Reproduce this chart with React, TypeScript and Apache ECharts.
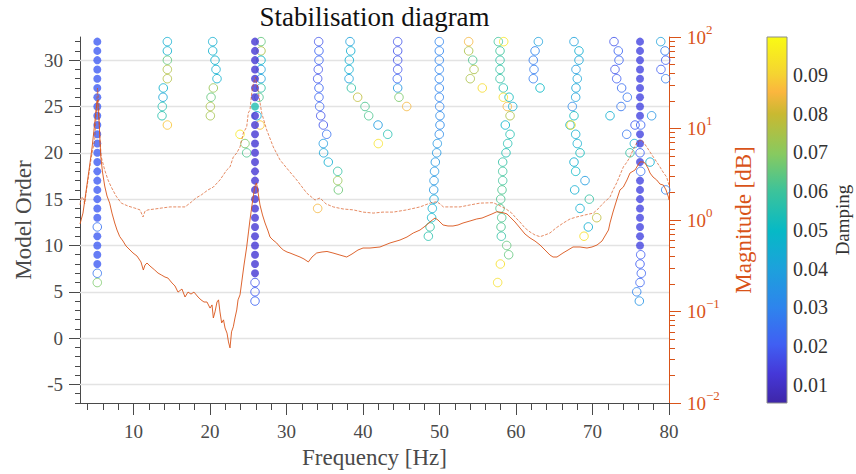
import { useEffect, useRef } from "react";
import * as echarts from "echarts";

const FONT = "Liberation Serif";
const AXIS_GRAY = "#4a4a4a";
const ORANGE = "#D95319";

const titleText = "Stabilisation diagram";
const xLabel = "Frequency [Hz]";
const yLeftLabel = "Model Order";
const yRightLabel = "Magnitude [dB]";
const colorbarLabel = "Damping";

const freqRange = [3, 80];
const orderRange = [-7, 32.5];
const magRange = [0.01, 100];
const dampingRange = [0.0053, 0.0998];

const freqTicks = [10, 20, 30, 40, 50, 60, 70, 80];
const freqMinorTicks = [4, 6, 8, 10, 12, 14, 16, 18, 20, 22, 24, 26, 28, 30, 32, 34, 36, 38, 40, 42, 44, 46, 48, 50, 52, 54, 56, 58, 60, 62, 64, 66, 68, 70, 72, 74, 76, 78, 80];
const orderTicks = [-5, 0, 5, 10, 15, 20, 25, 30];
const orderMinorTicks = [-7, -6, -5, -4, -3, -2, -1, 0, 1, 2, 3, 4, 5, 6, 7, 8, 9, 10, 11, 12, 13, 14, 15, 16, 17, 18, 19, 20, 21, 22, 23, 24, 25, 26, 27, 28, 29, 30, 31, 32];
const magTicks = [0.01, 0.1, 1, 10, 100];
const magMinorTicks = [0.02, 0.03, 0.04, 0.05, 0.06, 0.07, 0.08, 0.09, 0.2, 0.3, 0.4, 0.5, 0.6, 0.7, 0.8, 0.9, 2, 3, 4, 5, 6, 7, 8, 9, 20, 30, 40, 50, 60, 70, 80, 90];
const dampingTicks = [0.01, 0.02, 0.03, 0.04, 0.05, 0.06, 0.07, 0.08, 0.09];

// parula-like colormap stops [position, colour]
const colormapStops: [number, string][] = [
  [0.0, "#3E26A8"],
  [0.08, "#4538D8"],
  [0.16, "#405FF3"],
  [0.26, "#2E84ED"],
  [0.37, "#1CA2DB"],
  [0.47, "#06B9C6"],
  [0.58, "#3DC39A"],
  [0.68, "#87CA60"],
  [0.79, "#C9B931"],
  [0.85, "#FBB63E"],
  [0.9, "#F5D431"],
  [1.0, "#F9FA14"],
];

// stable poles: [frequency Hz, model order, damping]
const stablePoles: [number, number, number][] = [
  [5.26, 32, 0.02], [5.26, 31, 0.02], [5.26, 30, 0.02], [5.26, 29, 0.02], [5.26, 28, 0.02], [5.26, 27, 0.02],
  [5.26, 26, 0.02], [5.26, 25, 0.02], [5.26, 24, 0.02], [5.26, 23, 0.02], [5.26, 22, 0.02], [5.26, 21, 0.02],
  [5.26, 20, 0.02], [5.26, 19, 0.02], [5.26, 18, 0.02], [5.26, 17, 0.02], [5.26, 16, 0.02], [5.26, 15, 0.02],
  [5.26, 14, 0.02], [5.26, 13, 0.02], [5.26, 11, 0.02], [5.26, 10, 0.02], [5.26, 9, 0.02], [5.26, 8, 0.02],
  [25.88, 32, 0.012], [25.88, 31, 0.012], [25.88, 30, 0.012], [25.88, 29, 0.012], [25.88, 28, 0.012],
  [25.88, 27, 0.012], [25.88, 26, 0.012], [25.88, 25, 0.055], [25.88, 24, 0.012], [25.88, 23, 0.012],
  [25.88, 22, 0.012], [25.88, 21, 0.012], [25.88, 20, 0.012], [25.88, 19, 0.012], [25.88, 18, 0.012],
  [25.88, 17, 0.012], [25.88, 16, 0.012], [25.88, 15, 0.012], [25.88, 14, 0.012], [25.88, 13, 0.012],
  [25.88, 12, 0.012], [25.88, 11, 0.012], [25.88, 10, 0.012], [25.88, 9, 0.012], [25.88, 8, 0.012],
  [25.88, 7, 0.012],
  [76.21, 32, 0.015], [76.21, 31, 0.015], [76.21, 30, 0.015], [76.21, 29, 0.015], [76.21, 28, 0.015],
  [76.21, 27, 0.015], [76.21, 26, 0.015], [76.21, 25, 0.015], [76.21, 24, 0.015], [76.21, 22, 0.015],
  [76.21, 21, 0.015], [76.21, 19, 0.015], [76.21, 17, 0.015], [76.21, 16, 0.015], [76.21, 15, 0.015],
  [76.21, 14, 0.015], [76.21, 13, 0.015], [76.21, 12, 0.015], [76.21, 11, 0.015], [76.21, 10, 0.015],
];

// unstable poles: [frequency Hz, model order, damping]
const unstablePoles: [number, number, number][] = [
  [5.26, 12, 0.025], [5.26, 7, 0.026], [5.26, 6, 0.068],
  [14.42, 32, 0.045], [14.42, 31, 0.046], [14.42, 30, 0.065], [14.42, 29, 0.076], [14.42, 28, 0.076],
  [13.89, 27, 0.046], [13.85, 26, 0.042], [13.76, 25, 0.055], [13.72, 24, 0.056], [14.42, 23, 0.088],
  [20.35, 32, 0.045], [20.35, 31, 0.046], [20.65, 30, 0.046], [20.78, 29, 0.045], [20.91, 28, 0.046],
  [20.43, 27, 0.072], [20.13, 26, 0.065], [20.04, 25, 0.075], [20.04, 24, 0.074],
  [23.92, 22, 0.095], [24.57, 21, 0.068], [24.79, 20, 0.062],
  [26.66, 32, 0.065], [26.66, 31, 0.075], [26.66, 30, 0.048], [26.66, 29, 0.04], [26.66, 28, 0.04],
  [26.66, 27, 0.058], [26.4, 26, 0.062], [26.13, 24, 0.045], [26.53, 23, 0.088],
  [25.88, 6, 0.018], [25.88, 5, 0.02], [25.88, 4, 0.022],
  [34.2, 32, 0.018], [34.24, 31, 0.022], [34.24, 30, 0.022], [34.15, 29, 0.018], [34.07, 28, 0.018],
  [34.24, 27, 0.022], [34.24, 26, 0.022], [34.33, 25, 0.022], [34.47, 24, 0.018], [34.81, 23, 0.018],
  [35.25, 22, 0.025], [34.81, 21, 0.038], [34.85, 20, 0.042], [35.46, 19, 0.045], [36.69, 18, 0.058],
  [36.69, 17, 0.072], [36.77, 16, 0.066], [34.07, 14, 0.085],
  [38.3, 32, 0.04], [38.39, 31, 0.045], [38.21, 30, 0.045], [38.17, 29, 0.045], [38.17, 28, 0.04],
  [38.47, 27, 0.058], [39.3, 26, 0.078], [40.26, 25, 0.062], [40.74, 24, 0.062], [41.96, 23, 0.038],
  [43.23, 22, 0.055], [42.0, 21, 0.094],
  [44.53, 32, 0.018], [44.53, 31, 0.018], [44.53, 30, 0.018], [44.53, 29, 0.018], [44.48, 28, 0.022],
  [44.53, 27, 0.036], [44.7, 26, 0.068], [45.71, 25, 0.085],
  [49.97, 32, 0.03], [49.97, 31, 0.03], [49.97, 30, 0.03], [49.97, 29, 0.03], [49.97, 28, 0.03],
  [49.97, 27, 0.03], [49.97, 26, 0.03], [50.02, 25, 0.03], [50.06, 24, 0.032], [50.06, 23, 0.032],
  [49.97, 22, 0.032], [49.71, 21, 0.036], [49.63, 20, 0.036], [49.45, 19, 0.036], [49.35, 18, 0.036],
  [49.28, 17, 0.036], [49.24, 16, 0.036], [49.28, 15, 0.042], [49.06, 14, 0.045], [48.97, 13, 0.048],
  [48.76, 12, 0.058], [48.54, 11, 0.056],
  [53.81, 32, 0.085], [53.81, 31, 0.075], [54.34, 30, 0.062], [54.51, 29, 0.075], [54.02, 28, 0.075],
  [55.59, 27, 0.092],
  [57.69, 32, 0.06], [58.39, 32, 0.095], [57.91, 31, 0.06], [57.91, 30, 0.058], [57.91, 29, 0.058],
  [57.91, 28, 0.058], [58.34, 27, 0.055], [58.34, 26, 0.093], [59.09, 26, 0.052], [58.86, 25, 0.085],
  [59.57, 25, 0.045], [59.22, 24, 0.075], [58.6, 23, 0.048], [59.22, 22, 0.055], [58.91, 21, 0.055],
  [58.69, 20, 0.055], [58.26, 19, 0.058], [58.26, 18, 0.06], [58.26, 17, 0.06], [58.17, 16, 0.062],
  [58.0, 15, 0.062], [57.91, 14, 0.062], [58.13, 13, 0.062], [58.04, 12, 0.062], [58.08, 11, 0.058],
  [58.78, 10, 0.065], [59.04, 9, 0.065], [57.95, 8, 0.093], [57.6, 6, 0.093],
  [62.92, 32, 0.04], [62.49, 31, 0.03], [62.26, 30, 0.028], [62.35, 29, 0.028], [62.26, 28, 0.028],
  [63.14, 27, 0.05],
  [67.58, 32, 0.04], [68.23, 31, 0.045], [68.23, 30, 0.042], [67.84, 29, 0.038], [68.01, 28, 0.042],
  [67.84, 27, 0.042], [67.8, 26, 0.04], [67.36, 25, 0.032], [67.58, 24, 0.052], [67.06, 23, 0.045],
  [67.19, 23, 0.094], [67.8, 22, 0.045], [68.01, 21, 0.045], [68.37, 20, 0.052], [67.58, 19, 0.045],
  [67.8, 18, 0.05], [69.02, 17, 0.038], [67.67, 16, 0.045], [69.58, 15, 0.058], [68.37, 14, 0.045],
  [70.55, 13, 0.078], [69.45, 12, 0.045], [68.89, 11, 0.093],
  [72.81, 32, 0.018], [73.37, 31, 0.022], [73.46, 30, 0.022], [72.94, 29, 0.018], [73.16, 28, 0.02],
  [73.81, 27, 0.024], [74.55, 26, 0.026], [73.73, 25, 0.026], [72.29, 24, 0.045], [77.73, 24, 0.035],
  [75.56, 23, 0.02], [76.3, 23, 0.022], [74.47, 22, 0.026], [75.47, 21, 0.045], [74.9, 20, 0.058],
  [76.21, 20, 0.022], [77.52, 19, 0.045], [76.3, 18, 0.025],
  [76.3, 9, 0.02], [76.21, 8, 0.02], [76.38, 7, 0.022], [76.21, 6, 0.022], [75.78, 5, 0.03], [76.12, 4, 0.035],
  [78.92, 32, 0.04], [79.48, 31, 0.028], [79.57, 30, 0.02], [78.95, 29, 0.02], [79.57, 28, 0.028],
  [79.57, 16, 0.03],
];

// lower FRF curve (solid)
const solidFreq = [3.0, 3.39, 3.78, 4.18, 4.57, 4.9, 5.16, 5.29, 5.48, 5.71, 5.94, 6.23, 6.53, 6.88, 7.18, 7.54, 7.84, 8.19, 8.62, 9.01, 9.54, 9.93, 10.45, 10.97, 11.28, 11.5, 11.76, 12.15, 12.77, 13.2, 13.63, 14.11, 14.5, 15.03, 15.42, 15.81, 16.33, 16.73, 17.12, 17.51, 17.9, 18.43, 18.82, 19.21, 19.6, 20.0, 20.26, 20.43, 20.65, 20.91, 21.11, 21.3, 21.52, 21.76, 21.96, 22.22, 22.41, 22.61, 22.81, 23.04, 23.26, 23.49, 23.66, 23.92, 24.18, 24.44, 24.79, 25.03, 25.22, 25.49, 25.68, 25.88, 26.07, 26.27, 26.53, 26.86, 27.19, 27.58, 27.84, 28.23, 28.71, 29.15, 29.58, 30.06, 30.45, 31.11, 31.76, 32.28, 32.85, 33.33, 33.94, 34.64, 35.29, 36.07, 36.98, 37.87, 38.56, 39.34, 40.0, 40.91, 42.22, 43.53, 44.83, 45.75, 46.57, 47.45, 48.32, 48.89, 49.41, 49.8, 50.46, 51.11, 51.76, 52.42, 53.07, 53.98, 54.86, 55.55, 56.21, 56.86, 57.51, 58.3, 58.82, 59.22, 59.87, 60.52, 61.17, 61.83, 62.48, 63.14, 63.79, 64.44, 64.84, 65.36, 66.14, 66.8, 67.45, 68.37, 69.28, 69.93, 70.59, 71.24, 71.86, 72.09, 72.29, 72.68, 73.16, 73.59, 74.03, 74.51, 74.9, 75.56, 75.95, 76.21, 76.6, 76.86, 77.25, 77.52, 77.91, 78.39, 78.82, 79.26, 79.61, 79.93, 80.0];
const solidMag = [0.904, 1.19, 2.02, 3.52, 6.12, 10.9, 18.1, 20.5, 12.4, 5.0, 3.35, 2.35, 1.83, 1.53, 1.19, 0.927, 0.777, 0.66, 0.589, 0.52, 0.47, 0.436, 0.404, 0.348, 0.284, 0.322, 0.339, 0.314, 0.284, 0.263, 0.251, 0.238, 0.232, 0.205, 0.19, 0.163, 0.176, 0.144, 0.163, 0.155, 0.163, 0.144, 0.134, 0.127, 0.127, 0.109, 0.118, 0.085, 0.099, 0.127, 0.134, 0.099, 0.075, 0.081, 0.066, 0.058, 0.0465, 0.04, 0.06, 0.068, 0.085, 0.104, 0.134, 0.152, 0.221, 0.322, 0.507, 0.74, 1.0, 1.46, 1.88, 2.35, 2.54, 2.02, 1.46, 1.135, 0.927, 0.759, 0.652, 0.604, 0.561, 0.507, 0.47, 0.447, 0.436, 0.414, 0.394, 0.375, 0.348, 0.394, 0.436, 0.447, 0.453, 0.436, 0.414, 0.394, 0.425, 0.47, 0.494, 0.494, 0.507, 0.561, 0.604, 0.652, 0.721, 0.777, 0.882, 0.975, 1.05, 1.0, 0.882, 0.86, 0.86, 0.882, 0.927, 0.975, 1.026, 1.05, 1.106, 1.164, 1.233, 1.202, 1.164, 1.079, 0.951, 0.818, 0.703, 0.636, 0.589, 0.533, 0.47, 0.414, 0.394, 0.394, 0.436, 0.47, 0.507, 0.507, 0.494, 0.507, 0.533, 0.589, 0.721, 0.777, 0.93, 1.223, 1.654, 2.13, 2.29, 2.74, 3.26, 3.52, 3.99, 4.31, 4.31, 4.2, 3.7, 3.26, 2.95, 2.74, 2.47, 2.41, 2.13, 1.78, 1.654];

// upper FRF curve (dashed)
const dashedFreq = [3.0, 3.17, 3.39, 3.61, 3.85, 4.05, 4.48, 4.92, 5.13, 5.29, 5.42, 5.61, 5.78, 6.23, 6.66, 7.09, 7.71, 8.4, 9.28, 10.15, 10.84, 11.24, 11.5, 11.89, 12.8, 13.63, 14.77, 15.81, 16.73, 17.55, 18.16, 18.86, 19.73, 20.43, 21.3, 22.18, 22.61, 23.04, 23.49, 23.92, 24.35, 24.79, 25.0, 25.22, 25.45, 25.66, 25.94, 26.27, 26.75, 27.41, 28.27, 29.15, 30.23, 31.33, 32.64, 33.72, 34.38, 35.16, 36.11, 37.38, 38.73, 40.0, 41.34, 42.61, 43.96, 45.71, 47.45, 48.76, 49.63, 50.06, 50.5, 51.63, 52.68, 53.98, 55.29, 57.03, 58.13, 58.69, 59.44, 60.0, 60.52, 61.17, 61.83, 62.48, 63.14, 63.79, 64.44, 65.23, 66.18, 67.06, 67.93, 69.02, 70.11, 70.72, 71.41, 71.86, 72.29, 72.68, 73.16, 73.59, 74.03, 74.51, 74.9, 75.29, 75.78, 76.08, 76.43, 76.73, 77.09, 77.52, 77.95, 78.39, 78.82, 79.21, 79.69, 80.0];
const dashedMag = [1.46, 1.78, 1.74, 1.5, 2.13, 2.74, 4.88, 7.49, 14.8, 27.7, 20.5, 7.49, 4.88, 3.52, 2.74, 2.29, 1.83, 1.53, 1.42, 1.35, 1.29, 1.08, 1.25, 1.29, 1.32, 1.35, 1.39, 1.39, 1.39, 1.57, 1.74, 1.88, 2.13, 2.29, 2.74, 3.52, 3.8, 4.88, 5.4, 6.28, 8.93, 10.4, 14.8, 15.9, 24.4, 30.6, 36.5, 26.4, 14.8, 9.63, 6.28, 4.53, 3.52, 2.74, 1.97, 1.654, 1.74, 1.5, 1.39, 1.32, 1.29, 1.22, 1.19, 1.22, 1.22, 1.29, 1.39, 1.53, 1.585, 1.5, 1.39, 1.39, 1.39, 1.46, 1.53, 1.545, 1.4, 1.32, 1.19, 1.05, 0.951, 0.818, 0.74, 0.686, 0.657, 0.686, 0.721, 0.818, 0.927, 1.026, 1.079, 1.135, 1.19, 1.32, 1.53, 1.654, 1.78, 2.13, 2.54, 3.1, 3.8, 4.31, 4.88, 5.82, 6.94, 7.3, 7.49, 6.94, 6.28, 5.54, 4.88, 4.31, 3.8, 3.35, 2.95, 2.41];

function hexToRgb(h: string): number[] {
  const n = parseInt(h.slice(1), 16);
  return [(n >> 16) & 255, (n >> 8) & 255, n & 255];
}

function dampingColor(d: number): string {
  let t = (d - dampingRange[0]) / (dampingRange[1] - dampingRange[0]);
  t = Math.max(0, Math.min(1, t));
  for (let i = 0; i < colormapStops.length - 1; i++) {
    const [p0, c0] = colormapStops[i];
    const [p1, c1] = colormapStops[i + 1];
    if (t >= p0 && t <= p1) {
      const k = (t - p0) / (p1 - p0);
      const a = hexToRgb(c0);
      const b = hexToRgb(c1);
      const r = a.map((v, j) => Math.round(v + (b[j] - v) * k));
      return `rgb(${r[0]},${r[1]},${r[2]})`;
    }
  }
  return colormapStops[colormapStops.length - 1][1];
}

function supLabel(v: number): string {
  const e = Math.round(Math.log10(v));
  const s = e < 0 ? "\u2212" + Math.abs(e) : String(e);
  return `{b|10}{s|${s}}`;
}

function buildOption(): any {
  const labelText = { color: AXIS_GRAY, fontFamily: FONT, fontSize: 19 };
  const hidden = { show: false };

  const unstableData = unstablePoles.map(([f, o, d]) => ({
    value: [f, o, d],
    itemStyle: { color: "rgba(255,255,255,0)", borderColor: dampingColor(d), borderWidth: 1, opacity: 0.85 },
  }));
  const stableData = stablePoles.map(([f, o, d]) => ({
    value: [f, o, d],
    itemStyle: { color: dampingColor(d), borderWidth: 0 },
  }));

  const gridBox = { left: 80, right: 187, top: 37, bottom: 71, containLabel: false, outerBoundsMode: "none" };

  return {
    animation: false,
    backgroundColor: "#ffffff",
    textStyle: { fontFamily: FONT },
    title: {
      text: titleText,
      left: 374.5,
      top: 3,
      padding: 0,
      textAlign: "center",
      textStyle: { fontFamily: FONT, fontSize: 27, fontWeight: "normal", color: "#111111" },
    },
    grid: [
      { ...gridBox },
      { ...gridBox },
      { left: 767, width: 20, top: 37, bottom: 71, containLabel: false, outerBoundsMode: "none" },
    ],
    xAxis: [
      {
        type: "value", gridIndex: 0, min: freqRange[0], max: freqRange[1], position: "bottom",
        axisLine: { show: true, onZero: false, lineStyle: { color: AXIS_GRAY, width: 1 } },
        axisTick: { show: true, inside: false, length: 7, customValues: freqMinorTicks, lineStyle: { color: AXIS_GRAY, width: 1 } },
        axisLabel: { show: true, customValues: freqTicks, margin: 19, ...labelText },
        splitLine: hidden,
        name: xLabel, nameLocation: "middle", nameGap: 43, nameMoveOverlap: false,
        nameTextStyle: { color: AXIS_GRAY, fontFamily: FONT, fontSize: 23 },
      },
      {
        type: "value", gridIndex: 1, min: freqRange[0], max: freqRange[1], position: "bottom",
        axisLine: { show: false, onZero: false },
        axisTick: { show: true, inside: false, length: 12, customValues: freqTicks, lineStyle: { color: AXIS_GRAY, width: 1 } },
        axisLabel: hidden, splitLine: hidden,
      },
      {
        type: "value", gridIndex: 2, min: 0, max: 1, show: false,
      },
    ],
    yAxis: [
      {
        type: "value", gridIndex: 0, min: orderRange[0], max: orderRange[1], position: "left",
        axisLine: { show: true, onZero: false, lineStyle: { color: AXIS_GRAY, width: 1 } },
        axisTick: { show: true, inside: false, length: 5, customValues: orderMinorTicks, lineStyle: { color: AXIS_GRAY, width: 1 } },
        axisLabel: { show: true, customValues: orderTicks, margin: 17, ...labelText },
        splitLine: hidden,
        name: yLeftLabel, nameLocation: "middle", nameGap: 45, nameMoveOverlap: false,
        nameTextStyle: { color: AXIS_GRAY, fontFamily: FONT, fontSize: 23 },
      },
      {
        type: "log", logBase: 10, gridIndex: 0, min: magRange[0], max: magRange[1], position: "right",
        axisLine: { show: true, onZero: false, lineStyle: { color: ORANGE, width: 1 } },
        axisTick: { show: true, inside: false, length: 6, customValues: magMinorTicks, lineStyle: { color: ORANGE, width: 1 } },
        axisLabel: {
          show: true, customValues: magTicks, margin: 18, formatter: supLabel, fontFamily: FONT,
          rich: {
            b: { fontFamily: FONT, fontSize: 19, color: ORANGE },
            s: { fontFamily: FONT, fontSize: 13, color: ORANGE, verticalAlign: "top", padding: [0, 0, 16, 0] },
          },
        },
        splitLine: hidden,
        name: yRightLabel, nameLocation: "middle", nameGap: 63, nameMoveOverlap: false,
        nameTextStyle: { color: ORANGE, fontFamily: FONT, fontSize: 23 },
      },
      {
        type: "value", gridIndex: 1, min: orderRange[0], max: orderRange[1], position: "left",
        axisLine: { show: false, onZero: false },
        axisTick: { show: true, inside: false, length: 11, customValues: orderTicks, lineStyle: { color: AXIS_GRAY, width: 1 } },
        axisLabel: hidden, splitLine: hidden,
      },
      {
        type: "log", logBase: 10, gridIndex: 1, min: magRange[0], max: magRange[1], position: "right",
        axisLine: { show: false, onZero: false },
        axisTick: { show: true, inside: false, length: 12, customValues: magTicks, lineStyle: { color: ORANGE, width: 1 } },
        axisLabel: hidden, splitLine: hidden,
      },
      {
        type: "value", gridIndex: 2, min: dampingRange[0], max: dampingRange[1], position: "right",
        axisLine: { show: false, onZero: false },
        axisTick: { show: true, inside: true, length: 4, customValues: dampingTicks, lineStyle: { color: "#333333", width: 1 } },
        axisLabel: {
          show: true, customValues: dampingTicks, margin: 6, formatter: (v: number) => v.toFixed(2),
          color: "#333333", fontFamily: FONT, fontSize: 20,
        },
        splitLine: hidden,
        name: colorbarLabel, nameLocation: "middle", nameGap: 46, nameMoveOverlap: false,
        nameTextStyle: { color: "#333333", fontFamily: FONT, fontSize: 19 },
      },
    ],
    series: [
      {
        type: "line", xAxisIndex: 0, yAxisIndex: 0, data: [], silent: true, z: 1,
        markLine: {
          silent: true, symbol: ["none", "none"], label: { show: false },
          lineStyle: { color: "#e3e3e3", width: 1.3, type: "solid" },
          emphasis: { disabled: true },
          data: orderTicks.map((v) => ({ yAxis: v })),
        },
      },
      {
        type: "scatter", name: "unstable", xAxisIndex: 0, yAxisIndex: 0, symbol: "circle", symbolSize: 8.5,
        data: unstableData, z: 10, silent: true,
      },
      {
        type: "scatter", name: "stable", xAxisIndex: 0, yAxisIndex: 0, symbol: "circle", symbolSize: 8,
        data: stableData, z: 11, silent: true,
      },
      {
        type: "line", name: "FRF upper", xAxisIndex: 0, yAxisIndex: 1, showSymbol: false, symbol: "none",
        data: dashedFreq.map((f, i) => [f, dashedMag[i]]), z: 12, silent: true,
        lineStyle: { color: ORANGE, width: 0.8, type: [3, 1.5], opacity: 0.85 },
      },
      {
        type: "line", name: "FRF lower", xAxisIndex: 0, yAxisIndex: 1, showSymbol: false, symbol: "none",
        data: solidFreq.map((f, i) => [f, solidMag[i]]), z: 13, silent: true,
        lineStyle: { color: ORANGE, width: 0.9 },
      },
      {
        type: "custom", xAxisIndex: 2, yAxisIndex: 4, data: [[0, dampingRange[0]]], silent: true,
        renderItem: (_params: any, api: any) => {
          const p0 = api.coord([0, dampingRange[0]]);
          const p1 = api.coord([1, dampingRange[1]]);
          return {
            type: "rect",
            shape: { x: p0[0], y: p1[1], width: p1[0] - p0[0], height: p0[1] - p1[1] },
            style: {
              fill: new echarts.graphic.LinearGradient(0, 1, 0, 0, colormapStops.map(([o, c]) => ({ offset: o, color: c }))),
              stroke: "#8c8c8c",
              lineWidth: 1,
            },
          };
        },
      },
    ],
  };
}

export default function App() {
  const ref = useRef<HTMLDivElement>(null);
  useEffect(() => {
    if (!ref.current) return;
    const chart = echarts.init(ref.current, null, { renderer: "svg" });
    chart.setOption(buildOption());
    return () => chart.dispose();
  }, []);
  return <div ref={ref} style={{ position: "fixed", left: 0, top: 0, width: 856, height: 474, background: "#fff" }} />;
}
